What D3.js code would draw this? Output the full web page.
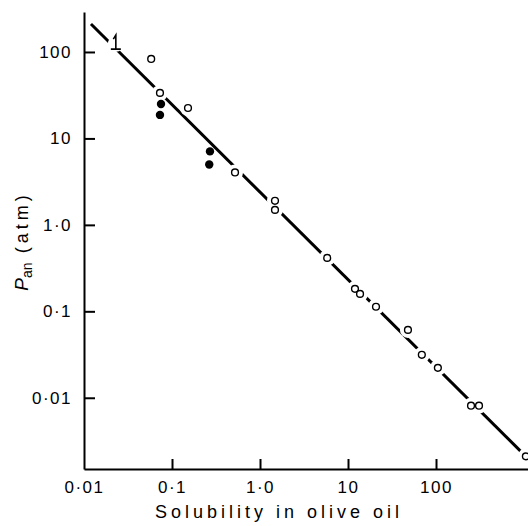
<!DOCTYPE html>
<html>
<head>
<meta charset="utf-8">
<script src="https://cdn.jsdelivr.net/npm/d3@7"></script>
<style>
  body { margin: 0; background: #fff; }
  text { font-family: "Liberation Sans", Arial, sans-serif; fill: #000; }
</style>
</head>
<body>
<div id="chart"></div>
<script>
// open circles (solubility, pressure)
var openX = [0.058, 0.073, 0.152, 0.52, 1.48, 1.48, 5.8, 12.0, 13.7, 20.8, 48, 69, 105, 250, 308, 1050];
var openY = [83, 33.6, 22.5, 4.04, 1.9, 1.49, 0.415, 0.182, 0.159, 0.113, 0.061, 0.0314, 0.0222, 0.0081, 0.0081, 0.0021];
// filled circles
var filledX = [0.075, 0.073, 0.27, 0.265];
var filledY = [25, 18.7, 7.08, 5.0];
// limit marker (upper-bound symbol)
var limitX = [0.023];
var limitY = [108];
// fitted line end points
var fitX = [0.012, 925];
var fitY = [211, 0.00238];
// ticks
var xTicks = [0.01, 0.1, 1, 10, 100];
var xTickLabels = ["0·01", "0·1", "1·0", "10", "100"];
var yTicks = [100, 10, 1, 0.1, 0.01];
var yTickLabels = ["100", "10", "1·0", "0·1", "0·01"];

const w = 528; //width
const h = 526; //height
const padL = 84, padB = 469, padT = 12, padR = 528;

const xScale = d3.scaleLog().domain([0.01, 1110]).range([padL, padR]);
const yScale = d3.scaleLog().domain([0.0015, 290]).range([padB, padT]);

const svg = d3.select("#chart").append("svg")
  .attr("width", w)
  .attr("height", h);

//fitted line
svg.append("path")
  .datum(fitX.map((d, i) => [d, fitY[i]]))
  .attr("d", d3.line().x(d => xScale(d[0])).y(d => yScale(d[1])))
  .attr("stroke", "#000")
  .attr("stroke-width", 3)
  .attr("fill", "none");

//white gaps in line around open markers
var openData = openX.map((d, i) => [d, openY[i]]);
svg.selectAll("circle.halo")
  .data(openData.concat([[limitX[0], limitY[0] * 1.15]]))
  .enter().append("circle")
  .attr("class", "halo")
  .attr("cx", d => xScale(d[0]))
  .attr("cy", d => yScale(d[1]))
  .attr("r", 8)
  .attr("fill", "#fff");

svg.selectAll("circle.open")
  .data(openData)
  .enter().append("circle")
  .attr("class", "open")
  .attr("cx", d => xScale(d[0]))
  .attr("cy", d => yScale(d[1]))
  .attr("r", 3.4)
  .attr("fill", "#fff")
  .attr("stroke", "#000")
  .attr("stroke-width", 1.4);

svg.selectAll("circle.filled")
  .data(filledX.map((d, i) => [d, filledY[i]]))
  .enter().append("circle")
  .attr("class", "filled")
  .attr("cx", d => xScale(d[0]))
  .attr("cy", d => yScale(d[1]))
  .attr("r", 4.2)
  .attr("fill", "#000");

svg.selectAll("path.limit")
  .data(limitX.map((d, i) => [d, limitY[i]]))
  .enter().append("path")
  .attr("class", "limit")
  .attr("transform", d => "translate(" + xScale(d[0]) + "," + yScale(d[1]) + ")")
  .attr("d", "M-5,0H5M0,0V-14L-2.5,-10")
  .attr("stroke", "#000")
  .attr("stroke-width", 1.6)
  .attr("fill", "none");

//axes, ticks pointing inward
const xAxis = d3.axisBottom(xScale)
  .tickValues(xTicks)
  .tickFormat((d, i) => xTickLabels[i])
  .tickSizeInner(-10)
  .tickSizeOuter(0)
  .tickPadding(12);

const yAxis = d3.axisLeft(yScale)
  .tickValues(yTicks)
  .tickFormat((d, i) => yTickLabels[i])
  .tickSizeInner(-11)
  .tickSizeOuter(0)
  .tickPadding(12);

const gx = svg.append("g")
  .attr("transform", "translate(0," + padB + ")")
  .call(xAxis);

const gy = svg.append("g")
  .attr("transform", "translate(" + padL + ",0)")
  .call(yAxis);

[gx, gy].forEach(g => {
  g.select(".domain").attr("stroke", "#000").attr("stroke-width", 2);
  g.selectAll(".tick line").attr("stroke", "#000").attr("stroke-width", 2);
  g.selectAll(".tick text")
    .attr("font-family", "Liberation Sans, Arial, sans-serif")
    .attr("font-size", 17)
    .attr("letter-spacing", 1.5)
    .attr("fill", "#000");
});
gx.select(".tick line").remove(); // no tick at corner

//axis titles
svg.append("text")
  .attr("x", 279)
  .attr("y", 518)
  .attr("text-anchor", "middle")
  .attr("font-size", 18)
  .attr("letter-spacing", 4)
  .text("Solubility in olive oil");

const yl = svg.append("text")
  .attr("transform", "translate(28,241) rotate(-90)")
  .attr("text-anchor", "middle")
  .attr("font-size", 18);
yl.append("tspan").attr("font-style", "italic").attr("font-size", 19).text("P");
yl.append("tspan").attr("font-size", 14).attr("dy", 4).text("an");
yl.append("tspan").attr("dy", -4).attr("letter-spacing", 4).text(" (atm)");
</script>
</body>
</html>
